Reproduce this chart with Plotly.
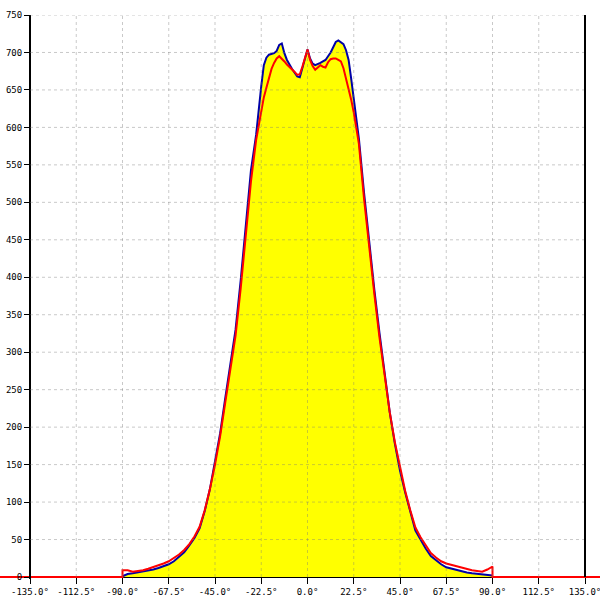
import plotly.graph_objects as go

# ---- data ----
angles = [-90, -87.5, -85, -82.5, -80, -77.5, -75, -72.5, -70, -67.5, -65, -62.5, -60,
          -57.5, -55, -52.5, -50, -47.5, -45, -42.5, -40, -37.5, -35, -32.5, -30, -27.5,
          -25, -23.75, -22.5, -21.25, -20, -18.75, -17.5, -16.25, -15, -13.75, -12.5, -11.25,
          -10, -8.75, -7.5, -6.25, -5, -3.75, -2.5, -1.25, 0, 1.25, 2.5, 3.75, 5, 6.25, 7.5,
          8.75, 10, 11.25, 12.5, 13.75, 15, 16.25, 17.5, 18.75, 20, 21.25, 22.5, 23.75, 25,
          27.5, 30, 32.5, 35, 37.5, 40, 42.5, 45, 47.5, 50, 52.5, 55, 57.5, 60, 62.5, 65,
          67.5, 70, 72.5, 75, 77.5, 80, 82.5, 85, 87.5, 90]

blue_values = [1, 4, 5, 6, 7, 9, 10, 12, 14, 17, 21, 27, 33,
               42, 52, 65, 88, 117, 152, 192, 239, 282, 330, 396, 470, 543,
               590, 625, 655, 683, 693, 697, 698, 699, 702, 710, 712, 699,
               690, 683, 678, 673, 668, 667, 679, 692, 704, 692, 685, 683, 684, 686, 688,
               690, 695, 700, 707, 714, 716, 714, 711, 703, 690, 665, 640, 612, 585,
               513, 445, 384, 326, 271, 220, 178, 142, 113, 86, 62, 50, 38, 28, 22, 17,
               13, 11, 10, 8, 6, 5, 4, 3, 3, 2]

red_values = [9, 9, 7, 8, 9, 11, 13, 15, 18, 21, 25, 30, 36,
              44, 54, 67, 89, 117, 150, 188, 233, 276, 322, 385, 455, 528,
              583, 603, 623, 640, 653, 666, 678, 686, 692, 695, 692, 688,
              684, 681, 677, 674, 670, 671, 681, 693, 704, 690, 682, 677, 680, 683, 681,
              680, 687, 691, 692, 692, 690, 688, 679, 666, 652, 637, 620, 600, 578,
              505, 438, 378, 320, 268, 220, 180, 145, 115, 89, 66, 53, 42, 32, 26, 21,
              18, 16, 14, 12, 10, 9, 8, 7, 10, 14]

# red series continues along zero outside the measured span
red_lead_x = [-160, -90]
red_tail_x = [90, 160]
red_edge_y = [0, 0]

x_tick_vals = [-135, -112.5, -90, -67.5, -45, -22.5, 0, 22.5, 45, 67.5, 90, 112.5, 135]
x_tick_text = ["-135.0°", "-112.5°", "-90.0°", "-67.5°", "-45.0°", "-22.5°", "0.0°",
               "22.5°", "45.0°", "67.5°", "90.0°", "112.5°", "135.0°"]
y_tick_vals = list(range(0, 751, 50))

# ---- layout geometry ----
W, H = 600, 600
left_px, right_px = 30, 585
top_m, bot_m = 15, 21
k = (right_px - left_px) / 270.0
x_range = [-135 - left_px / k, 135 + (W - right_px) / k]
plot_h = H - top_m - bot_m
y_per_px = 750 / (577 - 15)
y_range = [-(plot_h - 562) * y_per_px, 750]
zero_frac = (0 - y_range[0]) / (y_range[1] - y_range[0])

fig = go.Figure()
fig.add_trace(go.Scatter(
    x=angles, y=blue_values, mode="lines",
    line=dict(color="#0000a8", width=2),
    fill="tozeroy", fillcolor="#ffff00", hoverinfo="skip"))
fig.add_trace(go.Scatter(
    x=red_lead_x + angles + red_tail_x,
    y=red_edge_y + red_values + red_edge_y, mode="lines",
    line=dict(color="#ff0000", width=2), hoverinfo="skip"))

grid_color = "rgba(120,120,120,0.4)"
shapes = []
for v in x_tick_vals[1:-1]:
    shapes.append(dict(type="line", xref="x", yref="y", x0=v, x1=v, y0=0, y1=750,
                       line=dict(color=grid_color, width=1, dash="3px,3px"), layer="above"))
for v in y_tick_vals[1:]:
    shapes.append(dict(type="line", xref="x", yref="y", x0=-135, x1=135, y0=v, y1=v,
                       line=dict(color=grid_color, width=1, dash="3px,3px"), layer="above"))
shapes.append(dict(type="line", xref="x", yref="y", x0=135, x1=135, y0=0, y1=750,
                   line=dict(color="black", width=2), layer="above"))

font = dict(family="DejaVu Sans Mono", size=9, color="black")
fig.update_layout(
    width=W, height=H, margin=dict(l=0, r=0, t=top_m, b=bot_m, autoexpand=False),
    paper_bgcolor="white", plot_bgcolor="white", showlegend=False,
    shapes=shapes,
    xaxis=dict(range=x_range, showgrid=False, zeroline=False, showline=False,
               tickmode="array", tickvals=x_tick_vals, ticktext=x_tick_text,
               ticks="outside", ticklen=6, tickwidth=1, tickcolor="black",
               anchor="free", position=zero_frac, tickfont=font, automargin=False,
               ticklabeloverflow="allow"),
    yaxis=dict(range=y_range, showgrid=False, zeroline=True, zerolinecolor="black",
               zerolinewidth=2, showline=True, linecolor="black", linewidth=2,
               tickmode="array", tickvals=y_tick_vals,
               ticks="outside", ticklen=5, tickwidth=1, tickcolor="black",
               anchor="free", position=left_px / W, tickfont=font, automargin=False,
               ticklabeloverflow="allow"),
)

fig.write_html("out.html", config={"displayModeBar": False},
               post_script="document.body.style.margin='0';document.body.style.overflow='hidden';")
